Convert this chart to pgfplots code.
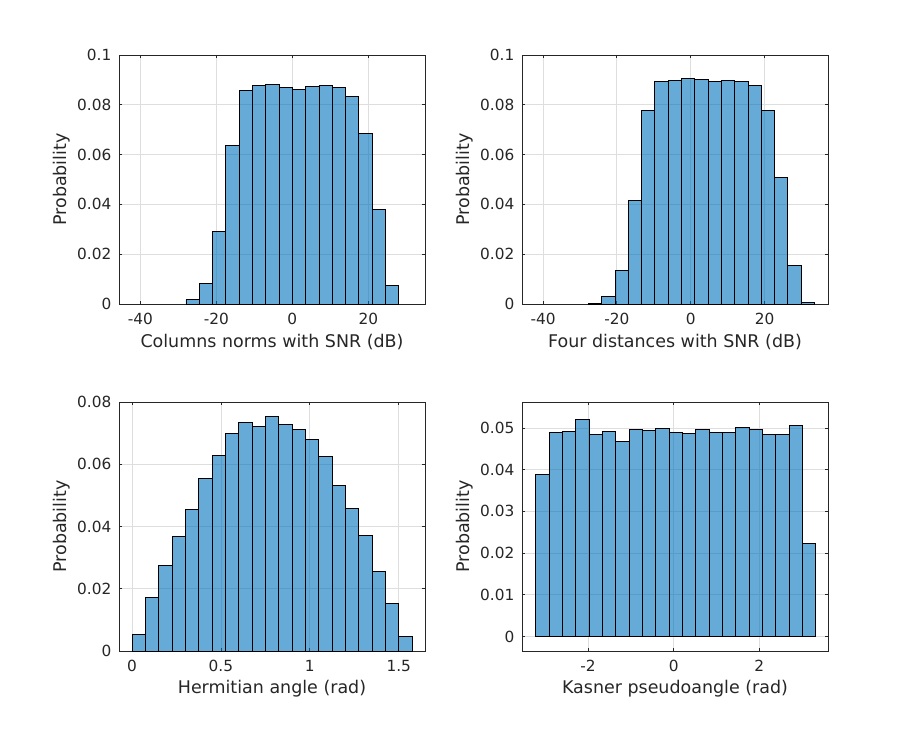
\documentclass[border=0pt]{standalone}
\usepackage{fontspec}
\setmainfont{DejaVu Sans}
\usepackage{pgfplots}
\pgfplotsset{compat=1.18}
\definecolor{mlblue}{RGB}{0,114,189}
\definecolor{axgray}{RGB}{38,38,38}
\definecolor{gridgray}{RGB}{222,222,222}
\pgfplotsset{
  mlaxis/.style={
    scale only axis, width=229.5pt, height=186.75pt, anchor=south west,
    axis line style={axgray, line width=0.6pt},
    tick style={axgray, line width=0.6pt},
    major tick length=2.5pt,
    tick align=inside,
    xtick pos=both, ytick pos=both,
    grid=major,
    major grid style={gridgray, line width=0.6pt},
    /pgf/number format/assume math mode=true,
    tick label style={font=\fontsize{11.5}{13}\selectfont, text=axgray},
    xticklabel style={yshift=-3.5pt},
    yticklabel style={xshift=-2.2pt, /pgf/number format/fixed, /pgf/number format/precision=2},
    scaled y ticks=false, scaled x ticks=false,
    label style={font=\fontsize{13.1}{15}\selectfont, text=axgray},
    xlabel style={at={(axis description cs:0.5,0)}, anchor=center, yshift=-28.5pt},
    ylabel style={at={(axis description cs:0,0.5)}, anchor=center, yshift=42.75pt},
    ylabel={Probability},
  },
  mlbar/.style={ybar interval, fill=mlblue, fill opacity=0.6, draw=black, draw opacity=1, line width=0.6pt},
}
\begin{document}
\begin{tikzpicture}
\useasboundingbox (0,0) rectangle (687pt,549.75pt);
% Top left
\begin{axis}[mlaxis, at={(89.25pt,321.75pt)},
  xmin=-45.6, xmax=34.9, ymin=0, ymax=0.1,
  xtick={-40,-20,0,20}, ytick={0,0.02,0.04,0.06,0.08,0.1},
  xlabel={Columns norms with SNR (dB)}]
\addplot[mlbar] table {
x y
-28 0.0019
-24.5 0.0083
-21 0.0292
-17.5 0.0637
-14 0.0858
-10.5 0.0878
-7 0.0882
-3.5 0.0870
0 0.0862
3.5 0.0874
7 0.0878
10.5 0.0870
14 0.0834
17.5 0.0685
21 0.0380
24.5 0.0075
28 0.0075
};
\end{axis}
% Top right
\begin{axis}[mlaxis, at={(391.5pt,321.75pt)},
  xmin=-45.7, xmax=37.2, ymin=0, ymax=0.1,
  xtick={-40,-20,0,20}, ytick={0,0.02,0.04,0.06,0.08,0.1},
  xlabel={Four distances with SNR (dB)}]
\addplot[mlbar] table {
x y
-27.7 0.0004
-24.1 0.0031
-20.5 0.0135
-16.9 0.0416
-13.3 0.0778
-9.7 0.0894
-6.1 0.0898
-2.5 0.0905
1.1 0.0902
4.7 0.0894
8.3 0.0898
11.9 0.0894
15.5 0.0878
19.1 0.0778
22.7 0.0509
26.3 0.0155
29.9 0.0007
33.5 0.0007
};
\end{axis}
% Bottom left
\begin{axis}[mlaxis, at={(89.25pt,61.5pt)},
  xmin=-0.0732, xmax=1.648, ymin=0, ymax=0.08,
  xtick={0,0.5,1,1.5}, ytick={0,0.02,0.04,0.06,0.08},
  xlabel={Hermitian angle (rad)}]
\addplot[mlbar] table {
x y
0 0.00536
0.075 0.01727
0.15 0.02756
0.225 0.03689
0.3 0.04558
0.375 0.05555
0.45 0.06295
0.525 0.07003
0.6 0.07357
0.675 0.07228
0.75 0.0755
0.825 0.07292
0.9 0.07131
0.975 0.0681
1.05 0.06263
1.125 0.0533
1.2 0.0459
1.275 0.0372
1.35 0.02563
1.425 0.01534
1.5 0.00472
1.575 0.00472
};
\end{axis}
% Bottom right
\begin{axis}[mlaxis, at={(391.5pt,61.5pt)},
  xmin=-3.541, xmax=3.603, ymin=-0.0035, ymax=0.05625,
  xtick={-2,0,2}, ytick={0,0.01,0.02,0.03,0.04,0.05},
  xlabel={Kasner pseudoangle (rad)}]
\addplot[mlbar] table {
x y
-3.2200 0.03894
-2.9087 0.04904
-2.5974 0.04928
-2.2861 0.05216
-1.9748 0.04856
-1.6635 0.04928
-1.3522 0.04688
-1.0409 0.04976
-0.7296 0.04952
-0.4183 0.05000
-0.1070 0.04904
0.2043 0.04880
0.5156 0.04976
0.8269 0.04904
1.1382 0.04904
1.4495 0.05024
1.7608 0.04976
2.0721 0.04856
2.3834 0.04856
2.6947 0.05072
3.0060 0.02236
3.3173 0.02236
};
\end{axis}
\end{tikzpicture}
\end{document}
